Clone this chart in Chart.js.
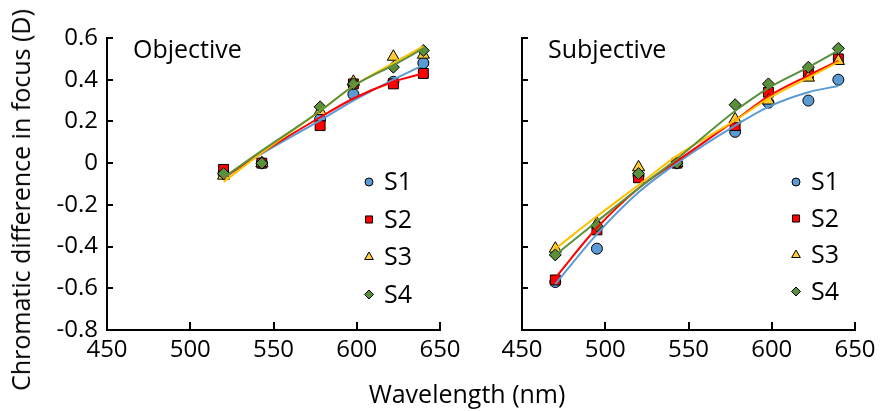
<!DOCTYPE html>
<html>
<head>
<meta charset="utf-8">
<script src="https://cdn.jsdelivr.net/npm/chart.js@4"></script>
<style>
  body { margin: 0; background: #fff; }
  #wrap { position: relative; width: 882px; height: 411px; font-family: "Open Sans", sans-serif; }
  canvas { position: absolute; top: 0; }
  #left { left: 0; }
  #right { left: 470px; }
  .ttl { position: absolute; font-size: 25px; color: #000; white-space: nowrap; }
  #ytitle { left: 20px; top: 200px; transform: translate(-50%, -50%) rotate(-90deg); }
  #xtitle { left: 467px; top: 393px; transform: translate(-50%, -50%); }
</style>
</head>
<body>
<div id="wrap">
  <canvas id="left" width="470" height="411"></canvas>
  <canvas id="right" width="412" height="411"></canvas>
  <div class="ttl" id="ytitle">Chromatic difference in focus (D)</div>
  <div class="ttl" id="xtitle">Wavelength (nm)</div>
</div>
<script>
// 資料
var subjects = ['S1', 'S2', 'S3', 'S4'];
var xTicks = [450, 500, 550, 600, 650];
var yTicks = [-0.8, -0.6, -0.4, -0.2, 0, 0.2, 0.4, 0.6];

// Objective
var objWl = [520, 543, 578, 598, 622, 640];
var objS1 = [-0.05, 0, 0.21, 0.33, 0.39, 0.48];
var objS2 = [-0.03, 0, 0.18, 0.38, 0.38, 0.43];
var objS3 = [-0.06, 0, 0.25, 0.39, 0.51, 0.52];
var objS4 = [-0.05, 0, 0.27, 0.38, 0.46, 0.54];
var objFitS1 = [-0.07, 0.045, 0.205, 0.30, 0.40, 0.47];
var objFitS2 = [-0.07, 0.05, 0.22, 0.31, 0.39, 0.43];
var objFitS3 = [-0.09, 0.05, 0.25, 0.37, 0.48, 0.56];
var objFitS4 = [-0.07, 0.06, 0.25, 0.37, 0.47, 0.55];

// Subjective
var subWl = [470, 495, 520, 543, 578, 598, 622, 640];
var subS1 = [-0.57, -0.41, -0.06, 0, 0.15, 0.29, 0.30, 0.40];
var subS2 = [-0.56, -0.32, -0.07, 0, 0.18, 0.34, 0.43, 0.50];
var subS3 = [-0.41, -0.29, -0.02, 0, 0.21, 0.30, 0.41, 0.49];
var subS4 = [-0.44, -0.30, -0.05, 0, 0.28, 0.38, 0.46, 0.55];
var subFitS1 = [-0.58, -0.34, -0.14, 0, 0.18, 0.27, 0.34, 0.37];
var subFitS2 = [-0.55, -0.31, -0.12, 0.01, 0.205, 0.32, 0.42, 0.49];
var subFitS3 = [-0.41, -0.255, -0.105, 0.035, 0.205, 0.31, 0.41, 0.485];
var subFitS4 = [-0.44, -0.28, -0.12, 0.02, 0.25, 0.36, 0.46, 0.54];

// 樣式
var fillColors = ['#5B9BD5', '#FF0000', '#FFCC33', '#5A8F3C'];
var lineColors = ['#5B9BD5', '#FF0000', '#FFC000', '#5A8F3C'];
var pointStyles = ['circle', 'rect', 'triangle', 'rectRot'];
var pointRadii = [5.5, 7, 7, 6];
var legendRadii = [4, 5, 5, 4.5];
var FONT = '"Open Sans", sans-serif';

function toXY(xs, ys) {
  return xs.map(function(x, i) { return { x: x, y: ys[i] }; });
}

function buildDatasets(wl, pts, fits) {
  var sets = [];
  subjects.forEach(function(name, i) {
    sets.push({
      label: name,
      data: toXY(wl, pts[i]),
      showLine: false,
      pointStyle: pointStyles[i],
      pointRadius: pointRadii[i],
      backgroundColor: fillColors[i],
      borderColor: '#000',
      borderWidth: 1,
      order: 10 - i,
      isMarker: true
    });
  });
  subjects.forEach(function(name, i) {
    sets.push({
      label: name + ' fit',
      data: toXY(wl, fits[i]),
      showLine: true,
      pointRadius: 0,
      borderColor: lineColors[i],
      borderWidth: 2,
      cubicInterpolationMode: 'monotone',
      order: 5 - i
    });
  });
  return sets;
}

// 內側刻度、面板標題與圖例
var panelPlugin = {
  id: 'panelDeco',
  afterDraw: function(chart, args, opts) {
    var ctx = chart.ctx;
    var area = chart.chartArea;
    var xs = chart.scales.x, ys = chart.scales.y;
    ctx.save();
    ctx.strokeStyle = '#000';
    ctx.lineWidth = 2;
    ctx.beginPath();
    xs.ticks.forEach(function(t) {
      var px = Math.round(xs.getPixelForValue(t.value));
      ctx.moveTo(px, area.bottom);
      ctx.lineTo(px, area.bottom - 8);
    });
    ys.ticks.forEach(function(t) {
      var py = Math.round(ys.getPixelForValue(t.value));
      ctx.moveTo(area.left, py);
      ctx.lineTo(area.left + 6, py);
    });
    ctx.stroke();

    ctx.fillStyle = '#000';
    ctx.font = '25px ' + FONT;
    ctx.textBaseline = 'middle';
    ctx.textAlign = 'left';
    ctx.fillText(opts.title, area.left + 26, area.top + 13);

    // 圖例
    var lx = area.right - opts.legendRight;
    chart.data.datasets.forEach(function(ds, i) {
      if (!ds.isMarker) return;
      var ly = area.top + opts.legendTop + i * opts.legendGap;
      ctx.fillStyle = ds.backgroundColor;
      ctx.strokeStyle = '#000';
      ctx.lineWidth = 1;
      Chart.helpers.drawPoint(ctx, { pointStyle: ds.pointStyle, radius: legendRadii[i], rotation: 0, borderWidth: 1 }, lx, ly);
      ctx.fillStyle = '#000';
      ctx.font = '25px ' + FONT;
      ctx.fillText(ds.label, lx + 15, ly + 1);
    });
    ctx.restore();
  }
};

function makeChart(id, datasets, showYLabels, yWidth, padRight, deco) {
  return new Chart(document.getElementById(id).getContext('2d'), {
    type: 'scatter',
    data: { datasets: datasets },
    options: {
      responsive: false,
      animation: false,
      layout: { padding: { top: 38, right: padRight, left: 0, bottom: 0 } },
      plugins: {
        legend: { display: false },
        tooltip: { enabled: false },
        panelDeco: deco
      },
      scales: {
        x: {
          type: 'linear',
          min: 450,
          max: 650,
          afterBuildTicks: function(s) { s.ticks = xTicks.map(function(v) { return { value: v }; }); },
          afterFit: function(s) { s.height = 81; },
          ticks: { color: '#000', font: { family: FONT, size: 24 }, padding: 6, maxRotation: 0 },
          grid: { drawOnChartArea: false, drawTicks: false },
          border: { color: '#000', width: 2 }
        },
        y: {
          min: -0.8,
          max: 0.6,
          afterBuildTicks: function(s) { s.ticks = yTicks.map(function(v) { return { value: v }; }); },
          afterFit: function(s) { s.width = yWidth; },
          ticks: {
            display: showYLabels,
            color: '#000',
            font: { family: FONT, size: 24 },
            padding: 9,
            callback: function(v) { return v === 0 ? '0' : v.toFixed(1); }
          },
          grid: { drawOnChartArea: false, drawTicks: false },
          border: { color: '#000', width: 2 }
        }
      }
    },
    plugins: [panelPlugin]
  });
}

makeChart('left',
  buildDatasets(objWl, [objS1, objS2, objS3, objS4], [objFitS1, objFitS2, objFitS3, objFitS4]),
  true, 107, 30,
  { title: 'Objective', legendRight: 71, legendTop: 144, legendGap: 37.5 });

makeChart('right',
  buildDatasets(subWl, [subS1, subS2, subS3, subS4], [subFitS1, subFitS2, subFitS3, subFitS4]),
  false, 52, 27,
  { title: 'Subjective', legendRight: 59, legendTop: 144, legendGap: 36.5 });
</script>
</body>
</html>
